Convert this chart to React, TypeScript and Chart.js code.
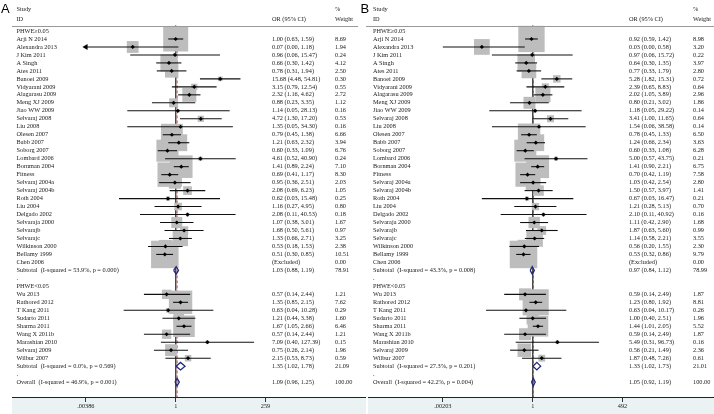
import React, { useEffect, useRef } from "react";
import { Chart, registerables } from "chart.js";
Chart.register(...registerables);

const FONT = '"Liberation Serif", "Times New Roman", serif';
const TXT = 6.3;

// ---------- data ----------
const groupLabels = ["PHWE≥0.05", "PHWE<0.05"];
const group1Studies = [
  "Arji N 2014", "Alexandra 2013", "J Kim 2011", "A Singh", "Ates 2011", "Banoei 2009",
  "Vidyarani 2009", "Alagarasu 2009", "Meng XJ 2009", "Jiao WW 2009", "Selvaraj 2008",
  "Liu 2008", "Olesen 2007", "Babb 2007", "Soborg 2007", "Lombard 2006", "Bornman 2004",
  "Fitness", "Selvaraj 2004a", "Selvaraj 2004b", "Roth 2004", "Liu 2004", "Delgado 2002",
  "Selvaraja 2000", "Selvarajb", "Selvarajc", "Wilkinson 2000", "Bellamy 1999", "Chen 2006",
];
const group2Studies = [
  "Wu 2013", "Rathored 2012", "T Kang 2011", "Sudarto 2011", "Sharma 2011", "Wang X 2011b",
  "Marashian 2010", "Selvaraj 2009", "Wilbur 2007",
];

// Panel A
const aTickLabels = [".00386", "1", "259"];
const aTickMax = 259;
const a1OR = [1.00, 0.07, 0.96, 0.66, 0.78, 15.68, 3.15, 2.32, 0.88, 1.14, 4.72, 1.35, 0.79, 1.21, 0.60, 4.61, 1.41, 0.69, 0.95, 2.08, 0.62, 1.16, 2.08, 1.07, 1.68, 1.33, 0.53, 0.51, null];
const a1Lo = [0.63, 0.002, 0.06, 0.30, 0.31, 4.48, 0.79, 1.16, 0.23, 0.05, 1.30, 0.05, 0.45, 0.63, 0.33, 0.52, 0.89, 0.41, 0.36, 0.69, 0.03, 0.27, 0.11, 0.38, 0.50, 0.66, 0.18, 0.30, null];
const a1Hi = [1.59, 1.18, 15.47, 1.42, 1.94, 54.81, 12.54, 4.62, 3.35, 28.13, 17.20, 34.30, 1.38, 2.32, 1.09, 40.90, 2.24, 1.17, 2.51, 6.23, 15.48, 4.95, 40.53, 3.01, 5.61, 2.71, 1.53, 0.85, null];
const a1W = [8.69, 1.94, 0.24, 4.12, 2.50, 0.30, 0.55, 2.72, 1.12, 0.16, 0.53, 0.16, 6.66, 3.94, 6.76, 0.24, 7.10, 8.30, 2.03, 1.05, 0.25, 0.80, 0.18, 1.67, 0.97, 3.25, 2.38, 10.51, 0.00];
const a2OR = [0.57, 1.35, 0.63, 1.21, 1.67, 0.57, 7.09, 0.75, 2.15];
const a2Lo = [0.14, 0.85, 0.04, 0.44, 1.05, 0.14, 0.40, 0.26, 0.53];
const a2Hi = [2.44, 2.15, 10.28, 3.38, 2.66, 2.44, 127.39, 2.14, 8.73];
const a2W = [1.21, 7.62, 0.29, 1.60, 6.46, 1.21, 0.15, 1.96, 0.59];
const aSubOR = [1.03, 1.35];
const aSubLo = [0.88, 1.02];
const aSubHi = [1.19, 1.78];
const aSubW = [78.91, 21.09];
const aSubI2 = ["53.9%", "0.0%"];
const aSubP = ["0.000", "0.569"];
const aAll = [1.09, 0.96, 1.25, 100.0];
const aAllI2 = "46.9%";
const aAllP = "0.001";

// Panel B
const bTickLabels = [".00203", "1", "492"];
const bTickMax = 492;
const b1OR = [0.92, 0.03, 0.97, 0.64, 0.77, 5.28, 2.39, 2.02, 0.80, 1.18, 3.41, 1.54, 0.78, 1.24, 0.60, 5.00, 1.41, 0.70, 1.03, 1.50, 0.67, 1.21, 2.10, 1.11, 1.87, 1.14, 0.56, 0.53, null];
const b1Lo = [0.59, 0.00203, 0.06, 0.30, 0.33, 1.82, 0.65, 1.05, 0.21, 0.05, 1.00, 0.06, 0.45, 0.66, 0.33, 0.57, 0.90, 0.42, 0.42, 0.57, 0.03, 0.28, 0.11, 0.42, 0.63, 0.58, 0.20, 0.32, null];
const b1Hi = [1.42, 0.58, 15.72, 1.35, 1.79, 15.31, 8.83, 3.89, 3.02, 29.22, 11.65, 38.58, 1.33, 2.34, 1.08, 43.75, 2.21, 1.19, 2.54, 3.97, 16.47, 5.13, 40.92, 2.90, 5.60, 2.21, 1.55, 0.86, null];
const b1W = [8.98, 3.20, 0.22, 3.97, 2.80, 0.72, 0.64, 2.96, 1.86, 0.14, 0.64, 0.14, 6.50, 3.63, 6.28, 0.21, 6.75, 7.58, 2.80, 1.41, 0.21, 0.70, 0.16, 1.68, 0.99, 3.55, 2.30, 9.79, 0.00];
const b2OR = [0.59, 1.23, 0.63, 1.00, 1.44, 0.59, 5.49, 0.56, 1.87];
const b2Lo = [0.14, 0.80, 0.04, 0.40, 1.01, 0.14, 0.31, 0.21, 0.48];
const b2Hi = [2.49, 1.92, 10.17, 2.51, 2.05, 2.49, 96.73, 1.49, 7.26];
const b2W = [1.87, 8.81, 0.26, 1.96, 5.52, 1.87, 0.16, 2.36, 0.61];
const bSubOR = [0.97, 1.33];
const bSubLo = [0.84, 1.02];
const bSubHi = [1.12, 1.73];
const bSubW = [78.99, 21.01];
const bSubI2 = ["43.3%", "27.3%"];
const bSubP = ["0.008", "0.201"];
const bAll = [1.05, 0.92, 1.19, 100.0];
const bAllI2 = "42.2%";
const bAllP = "0.004";

// ---------- layout ----------
const ROW0_Y = 31;
const ROW_H = 7.98;
const AXIS_Y = 397;
const Y_MIN = -ROW0_Y / ROW_H;
const Y_MAX = Y_MIN + AXIS_Y / ROW_H;
const rowOfY = (y: number) => (y - ROW0_Y) / ROW_H;

type Row = { kind: string; label: string; or?: number | null; lo?: number | null; hi?: number | null; w?: number };

function buildRows(p: any): Row[] {
  const rows: Row[] = [];
  rows.push({ kind: "header", label: groupLabels[0] });
  group1Studies.forEach((s, i) => rows.push({ kind: "study", label: s, or: p.g1OR[i], lo: p.g1Lo[i], hi: p.g1Hi[i], w: p.g1W[i] }));
  rows.push({ kind: "sub", label: `Subtotal  (I-squared = ${p.subI2[0]}, p = ${p.subP[0]})`, or: p.subOR[0], lo: p.subLo[0], hi: p.subHi[0], w: p.subW[0] });
  rows.push({ kind: "blank", label: "." });
  rows.push({ kind: "header", label: groupLabels[1] });
  group2Studies.forEach((s, i) => rows.push({ kind: "study", label: s, or: p.g2OR[i], lo: p.g2Lo[i], hi: p.g2Hi[i], w: p.g2W[i] }));
  rows.push({ kind: "sub", label: `Subtotal  (I-squared = ${p.subI2[1]}, p = ${p.subP[1]})`, or: p.subOR[1], lo: p.subLo[1], hi: p.subHi[1], w: p.subW[1] });
  rows.push({ kind: "blank", label: "." });
  rows.push({ kind: "overall", label: `Overall  (I-squared = ${p.allI2}, p = ${p.allP})`, or: p.all[0], lo: p.all[1], hi: p.all[2], w: p.all[3] });
  return rows;
}

const panelA = {
  letter: "A", tickLabels: aTickLabels, tickMax: aTickMax,
  g1OR: a1OR, g1Lo: a1Lo, g1Hi: a1Hi, g1W: a1W, g2OR: a2OR, g2Lo: a2Lo, g2Hi: a2Hi, g2W: a2W,
  subOR: aSubOR, subLo: aSubLo, subHi: aSubHi, subW: aSubW, subI2: aSubI2, subP: aSubP,
  all: aAll, allI2: aAllI2, allP: aAllP,
  left: 0, width: 366, plotLeft: 12, zeroX: 175.7, tickPx: 89.85, ruleStart: 12, ruleEnd: 358, letterX: 1,
  labelX: 16.5, orX: 272, wX: 335,
};
const panelB = {
  letter: "B", tickLabels: bTickLabels, tickMax: bTickMax,
  g1OR: b1OR, g1Lo: b1Lo, g1Hi: b1Hi, g1W: b1W, g2OR: b2OR, g2Lo: b2Lo, g2Hi: b2Hi, g2W: b2W,
  subOR: bSubOR, subLo: bSubLo, subHi: bSubHi, subW: bSubW, subI2: bSubI2, subP: bSubP,
  all: bAll, allI2: bAllI2, allP: bAllP,
  left: 357, width: 357, plotLeft: 11, zeroX: 175.7, tickPx: 89.85, ruleStart: 9, ruleEnd: 357, letterX: 3.5,
  labelX: 16, orX: 272, wX: 336,
};

const BOX_MAX = 27.5;
const f2 = (v: number) => v.toFixed(2);

function makeConfig(p: any): any {
  const T = Math.log(p.tickMax);
  const rows = buildRows(p);
  const studyW = rows.filter((r) => r.kind === "study").map((r) => r.w as number);
  const wMax = Math.max(...studyW);

  const datasets: any[] = [];
  const boxPts: any[] = [];
  const boxRad: number[] = [];
  const estPts: any[] = [];
  const arrowPts: any[] = [];

  // vertical reference lines
  datasets.push({
    data: [{ x: 0, y: rowOfY(25.7) }, { x: 0, y: Y_MAX }],
    showLine: true, borderColor: "#4a4a4a", borderWidth: 1, pointRadius: 0, order: 20,
  });
  datasets.push({
    data: [{ x: Math.log(p.all[0]), y: 0.55 }, { x: Math.log(p.all[0]), y: Y_MAX }],
    showLine: true, borderColor: "#b4504a", borderWidth: 1, borderDash: [3, 2], pointRadius: 0, order: 19,
  });

  rows.forEach((r, i) => {
    if (r.kind === "study" && r.or != null) {
      const x = Math.log(r.or);
      const side = BOX_MAX * Math.sqrt((r.w as number) / wMax);
      boxPts.push({ x, y: i });
      boxRad.push(side / Math.SQRT2);
      estPts.push({ x, y: i });
      let lo = Math.log(r.lo as number);
      if (lo < -T - 0.01) {
        lo = -T;
        arrowPts.push({ x: lo, y: i });
      }
      const hi = Math.min(Math.log(r.hi as number), T);
      datasets.push({
        data: [{ x: lo, y: i }, { x: hi, y: i }],
        showLine: true, borderColor: "#111", borderWidth: 1.1, pointRadius: 0, order: 5,
      });
    }
    if ((r.kind === "sub" || r.kind === "overall") && r.or != null) {
      const e = Math.log(r.or), lo = Math.log(r.lo as number), hi = Math.log(r.hi as number);
      const h = 0.47;
      datasets.push({
        data: [{ x: lo, y: i }, { x: e, y: i - h }, { x: hi, y: i }, { x: e, y: i + h }, { x: lo, y: i }],
        showLine: true, borderColor: "#22287a", borderWidth: 1.3, pointRadius: 0, order: 1,
        backgroundColor: "#ffffff", fill: false,
      });
    }
  });

  datasets.push({
    data: boxPts, pointStyle: "rect", pointRadius: boxRad, backgroundColor: "#bdbdbd",
    borderWidth: 0, order: 10,
  });
  datasets.push({
    data: estPts, pointStyle: "rectRot", pointRadius: 2.1, backgroundColor: "#000", borderWidth: 0, order: 3,
  });
  datasets.push({
    data: arrowPts, pointStyle: "triangle", rotation: -90, pointRadius: 3.4, backgroundColor: "#000", borderWidth: 0, order: 3,
  });

  const xMin = (-(p.zeroX - p.plotLeft) / p.tickPx) * T;
  const xMax = ((p.width - p.zeroX) / p.tickPx) * T;

  const bandPlugin = {
    id: "band",
    beforeDraw(chart: any) {
      const { ctx, chartArea } = chart;
      ctx.save();
      ctx.fillStyle = "#eaf2f3";
      ctx.fillRect(chartArea.left, chartArea.bottom, chart.width - chartArea.left, chart.height - chartArea.bottom);
      ctx.restore();
    },
  };

  const textPlugin = {
    id: "forestText",
    afterDraw(chart: any) {
      const ctx = chart.ctx;
      const ys = chart.scales.y;
      ctx.save();
      // letter
      ctx.fillStyle = "#000";
      ctx.font = `13px "Liberation Sans", Arial, sans-serif`;
      ctx.textBaseline = "alphabetic";
      ctx.textAlign = "left";
      ctx.fillText(p.letter, p.letterX, 13);

      ctx.fillStyle = "#1a1a1a";
      ctx.font = `${TXT}px ${FONT}`;
      ctx.textBaseline = "middle";
      const yStudy = ys.getPixelForValue(rowOfY(9.5));
      const yID = ys.getPixelForValue(rowOfY(19.5));
      ctx.fillText("Study", p.labelX, yStudy);
      ctx.fillText("ID", p.labelX, yID);
      ctx.fillText("OR (95% CI)", p.orX, yID);
      ctx.fillText("%", p.wX, yStudy);
      ctx.fillText("Weight", p.wX, yID);

      // header rule
      const yr = Math.round(ys.getPixelForValue(rowOfY(25.7))) + 0.5;
      ctx.strokeStyle = "#999";
      ctx.lineWidth = 1;
      ctx.beginPath();
      ctx.moveTo(p.ruleStart, yr);
      ctx.lineTo(p.ruleEnd, yr);
      ctx.stroke();

      rows.forEach((r, i) => {
        const y = ys.getPixelForValue(i);
        ctx.fillText(r.label, p.labelX, y);
        if (r.kind === "study" || r.kind === "sub" || r.kind === "overall") {
          const txt = r.or == null ? "(Excluded)" : `${f2(r.or)} (${f2(r.lo as number)}, ${f2(r.hi as number)})`;
          ctx.fillText(txt, p.orX, y);
          ctx.fillText(f2(r.w as number), p.wX, y);
        }
      });
      ctx.restore();
    },
  };

  return {
    type: "scatter",
    data: { datasets },
    options: {
      responsive: false,
      maintainAspectRatio: false,
      animation: false,
      devicePixelRatio: 1,
      layout: { autoPadding: false, padding: { left: p.plotLeft, right: 0, top: 0, bottom: 0 } },
      plugins: { legend: { display: false }, tooltip: { enabled: false } },
      scales: {
        x: {
          type: "linear",
          position: "bottom",
          min: xMin,
          max: xMax,
          afterBuildTicks: (s: any) => {
            s.ticks = [{ value: -T }, { value: 0 }, { value: T }];
          },
          afterFit: (s: any) => {
            s.height = 414 - AXIS_Y;
          },
          ticks: {
            autoSkip: false,
            maxRotation: 0,
            padding: 1,
            color: "#222",
            font: { family: FONT, size: TXT },
            callback: (_v: any, idx: number) => p.tickLabels[idx],
          },
          grid: { display: true, drawOnChartArea: false, drawTicks: true, tickLength: 5, color: "#333", tickWidth: 1 },
          border: { display: true, color: "#222", width: 1 },
        },
        y: { type: "linear", display: false, reverse: true, min: Y_MIN, max: Y_MAX },
      },
    },
    plugins: [bandPlugin, textPlugin],
  };
}

function ForestPanel({ panel }: { panel: any }) {
  const ref = useRef<HTMLCanvasElement>(null);
  useEffect(() => {
    const chart = new Chart(ref.current as HTMLCanvasElement, makeConfig(panel));
    return () => chart.destroy();
  }, [panel]);
  return (
    <canvas
      ref={ref}
      width={panel.width}
      height={414}
      style={{ position: "absolute", left: panel.left, top: 0, width: panel.width, height: 414, display: "block" }}
    />
  );
}

export default function App() {
  useEffect(() => {
    document.body.style.margin = "0";
    document.body.style.background = "#fff";
  }, []);
  return (
    <div style={{ position: "relative", width: 714, height: 414, background: "#fff", overflow: "hidden" }}>
      <ForestPanel panel={panelA} />
      <ForestPanel panel={panelB} />
    </div>
  );
}
